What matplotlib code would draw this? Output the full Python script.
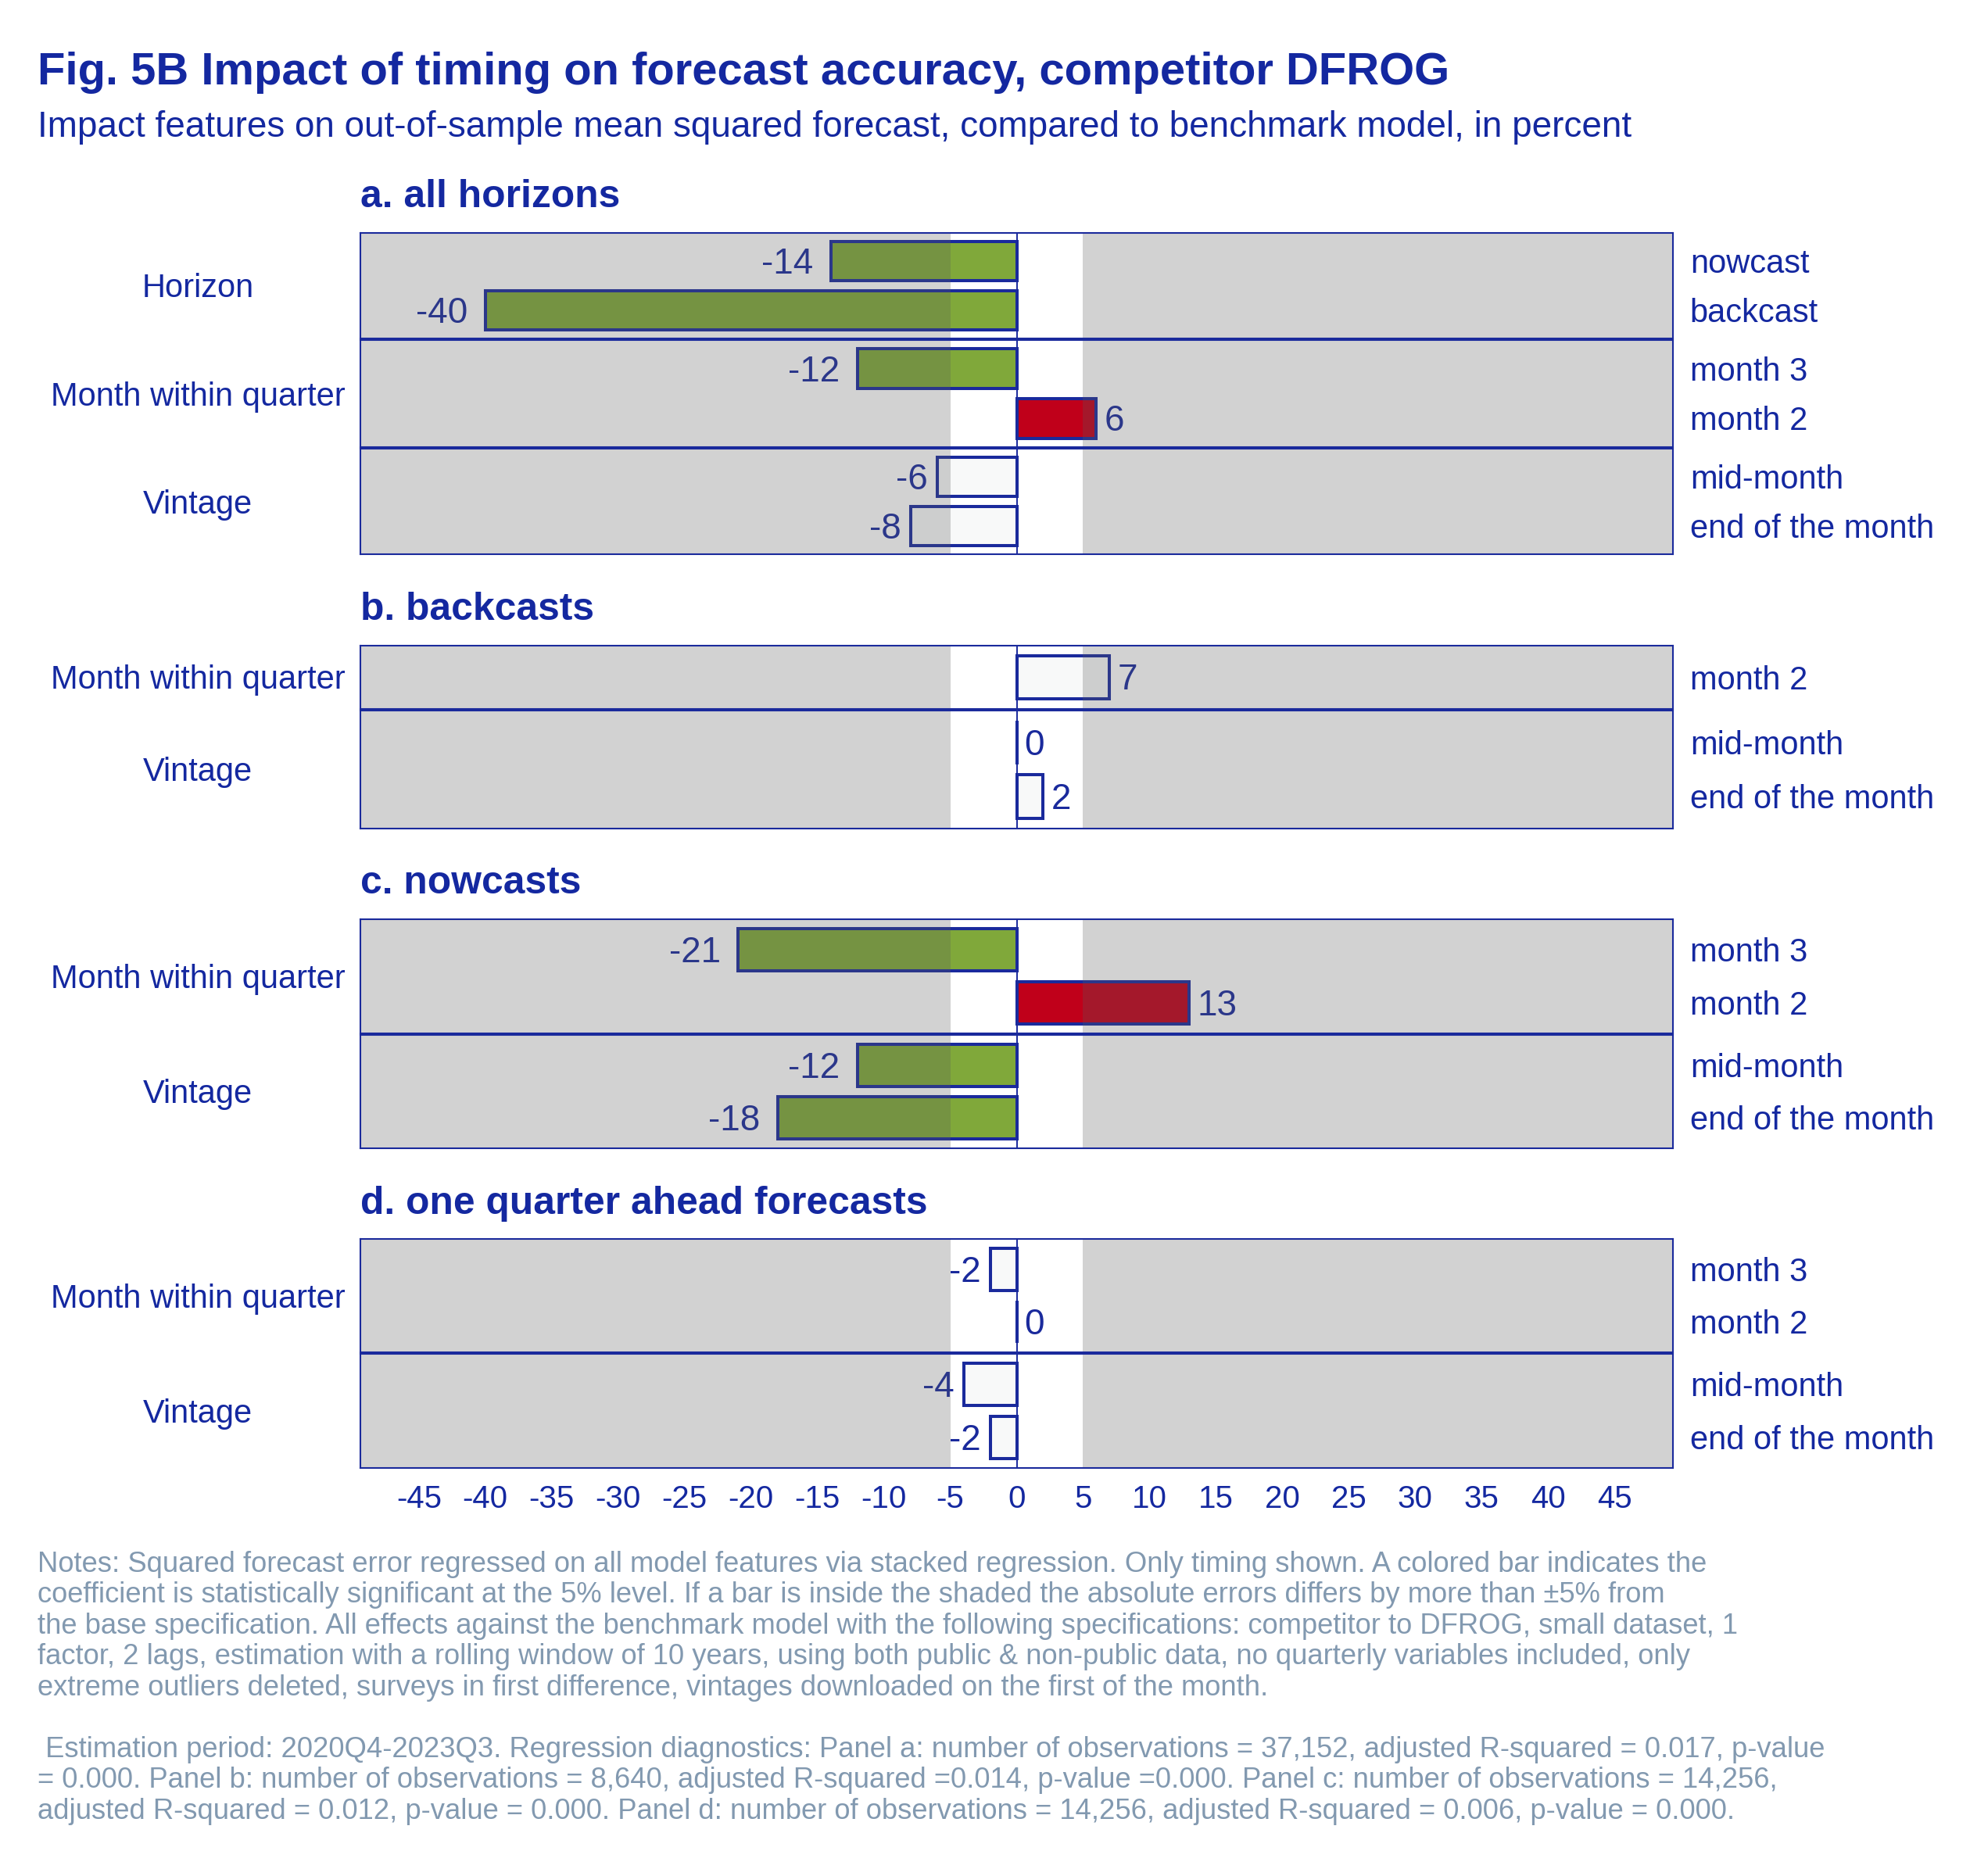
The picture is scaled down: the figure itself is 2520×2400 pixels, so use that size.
import matplotlib
matplotlib.use("Agg")
import matplotlib.pyplot as plt
from matplotlib.transforms import blended_transform_factory

plt.rcParams['font.family'] = ['Liberation Sans', 'DejaVu Sans']
plt.rcParams['axes.unicode_minus'] = False

# ---- data ----
panel_titles = ["a. all horizons", "b. backcasts", "c. nowcasts",
                "d. one quarter ahead forecasts"]

a_groups = ["Horizon", "Month within quarter", "Vintage"]
a_rows = [["nowcast", "backcast"], ["month 3", "month 2"],
          ["mid-month", "end of the month"]]
a_values = [[-14, -40], [-12, 6], [-6, -8]]
a_signif = [[1, 1], [1, 1], [0, 0]]

b_groups = ["Month within quarter", "Vintage"]
b_rows = [["month 2"], ["mid-month", "end of the month"]]
b_values = [[7], [0, 2]]
b_signif = [[0], [0, 0]]

c_groups = ["Month within quarter", "Vintage"]
c_rows = [["month 3", "month 2"], ["mid-month", "end of the month"]]
c_values = [[-21, 13], [-12, -18]]
c_signif = [[1, 1], [1, 1]]

d_groups = ["Month within quarter", "Vintage"]
d_rows = [["month 3", "month 2"], ["mid-month", "end of the month"]]
d_values = [[-2, 0], [-4, -2]]
d_signif = [[0, 0], [0, 0]]

x_ticks = list(range(-45, 50, 5))

notes = ["Notes: Squared forecast error regressed on all model features via stacked regression. Only timing shown. A colored bar indicates the",
         "coefficient is statistically significant at the 5% level. If a bar is inside the shaded the absolute errors differs by more than \u00b15% from",
         "the base specification. All effects against the benchmark model with the following specifications: competitor to DFROG, small dataset, 1",
         "factor, 2 lags, estimation with a rolling window of 10 years, using both public & non-public data, no quarterly variables included, only",
         "extreme outliers deleted, surveys in first difference, vintages downloaded on the first of the month."]
diag = [" Estimation period: 2020Q4-2023Q3. Regression diagnostics: Panel a: number of observations = 37,152, adjusted R-squared = 0.017, p-value",
        "= 0.000. Panel b: number of observations = 8,640, adjusted R-squared =0.014, p-value =0.000. Panel c: number of observations = 14,256,",
        "adjusted R-squared = 0.012, p-value = 0.000. Panel d: number of observations = 14,256, adjusted R-squared = 0.006, p-value = 0.000."]

# ---- style / layout ----
BLUE = '#1428a0'
EDGE = '#1a2a9c'
GREEN = '#80a83a'
RED = '#c0001a'
PALE = '#f8f9f9'
NOTE = '#8299b0'
SHADE = '#5b5b5b'

W, H = 2520, 2400
PX = 72 / 100          # points per pixel at dpi 100
X0, X1 = 461, 2140
XLIM = (-49.4, 49.4)

# pixel top/bottom of each group box, per panel
a_boxes = [(298, 433), (435, 572), (574, 709)]
b_boxes = [(826, 907), (909, 1060)]
c_boxes = [(1176, 1322), (1324, 1469)]
d_boxes = [(1585, 1730), (1732, 1878)]
title_base = [265, 793, 1143, 1553]

fig = plt.figure(figsize=(W / 100, H / 100), dpi=100)


def bar_color(v, s):
    if not s:
        return PALE
    return GREEN if v < 0 else RED


def add_group(top, bottom, group, rows, values, signif, last):
    ax = fig.add_axes([X0 / W, 1 - bottom / H, (X1 - X0) / W, (bottom - top) / H])
    n = len(values)
    y = list(range(n))
    ax.barh(y, values, height=0.8, color=[bar_color(v, s) for v, s in zip(values, signif)],
            edgecolor=EDGE, linewidth=2.9, zorder=2)
    for yi, v, s in zip(y, values, signif):
        if v < 0:
            gap = 22 if s else 12
            ax.annotate(str(v), (v, yi), xytext=(-gap * PX, -4 * PX),
                        textcoords='offset points', ha='right', va='center',
                        fontsize=33, color=EDGE, zorder=2.5)
        else:
            ax.annotate(str(v), (v, yi), xytext=(10 * PX, -4 * PX),
                        textcoords='offset points', ha='left', va='center',
                        fontsize=33, color=EDGE, zorder=2.5)
    ax.axvspan(XLIM[0], -5, color=SHADE, alpha=0.27, lw=0, zorder=3)
    ax.axvspan(5, XLIM[1], color=SHADE, alpha=0.27, lw=0, zorder=3)
    ax.axvline(0, color=EDGE, lw=1.4, zorder=4)
    ax.set_xlim(XLIM)
    ax.set_ylim(n - 0.5 + 0.08, -0.5 - 0.08)
    ax.set_yticks([])
    for sp in ax.spines.values():
        sp.set_color(EDGE)
        sp.set_linewidth(1.5)
        sp.set_zorder(5)
    if last:
        ax.set_xticks(x_ticks)
        ax.set_xticklabels([str(t) for t in x_ticks])
        ax.tick_params(axis='x', length=0, pad=15, labelsize=29, labelcolor=BLUE)
    else:
        ax.set_xticks([])
    tr = blended_transform_factory(ax.transAxes, ax.transData)
    for yi, r in zip(y, rows):
        ax.annotate(r, (1.013, yi), xycoords=tr, xytext=(0, -4 * PX),
                    textcoords='offset points', ha='left', va='center',
                    fontsize=30, color=BLUE, annotation_clip=False)
    ax.annotate(group, (-0.1239, 0.5), xycoords='axes fraction', xytext=(0, -4 * PX),
                textcoords='offset points', ha='center', va='center',
                fontsize=30, color=BLUE, annotation_clip=False)
    return ax


panels = [(a_groups, a_rows, a_values, a_signif, a_boxes),
          (b_groups, b_rows, b_values, b_signif, b_boxes),
          (c_groups, c_rows, c_values, c_signif, c_boxes),
          (d_groups, d_rows, d_values, d_signif, d_boxes)]

for p, (groups, rows, values, signif, boxes) in enumerate(panels):
    for g in range(len(groups)):
        last = (p == len(panels) - 1) and (g == len(groups) - 1)
        add_group(boxes[g][0], boxes[g][1], groups[g], rows[g], values[g], signif[g], last)
    fig.text(X0 / W, 1 - title_base[p] / H, panel_titles[p], fontsize=35.8,
             fontweight='bold', color=BLUE, va='baseline')

fig.text(48 / W, 1 - 108 / H, "Fig. 5B Impact of timing on forecast accuracy, competitor DFROG",
         fontsize=41.8, fontweight='bold', color=BLUE, va='baseline')
fig.text(48 / W, 1 - 175 / H,
         "Impact features on out-of-sample mean squared forecast, compared to benchmark model, in percent",
         fontsize=33, color=BLUE, va='baseline')

for i, line in enumerate(notes):
    fig.text(48 / W, 1 - (2011 + 39.4 * i) / H, line, fontsize=26.2, color=NOTE, va='baseline')
for i, line in enumerate(diag):
    fig.text(48 / W, 1 - (2248 + 39.4 * i) / H, line, fontsize=26.2, color=NOTE, va='baseline')

fig.savefig("out.png", dpi=100, facecolor='white')
